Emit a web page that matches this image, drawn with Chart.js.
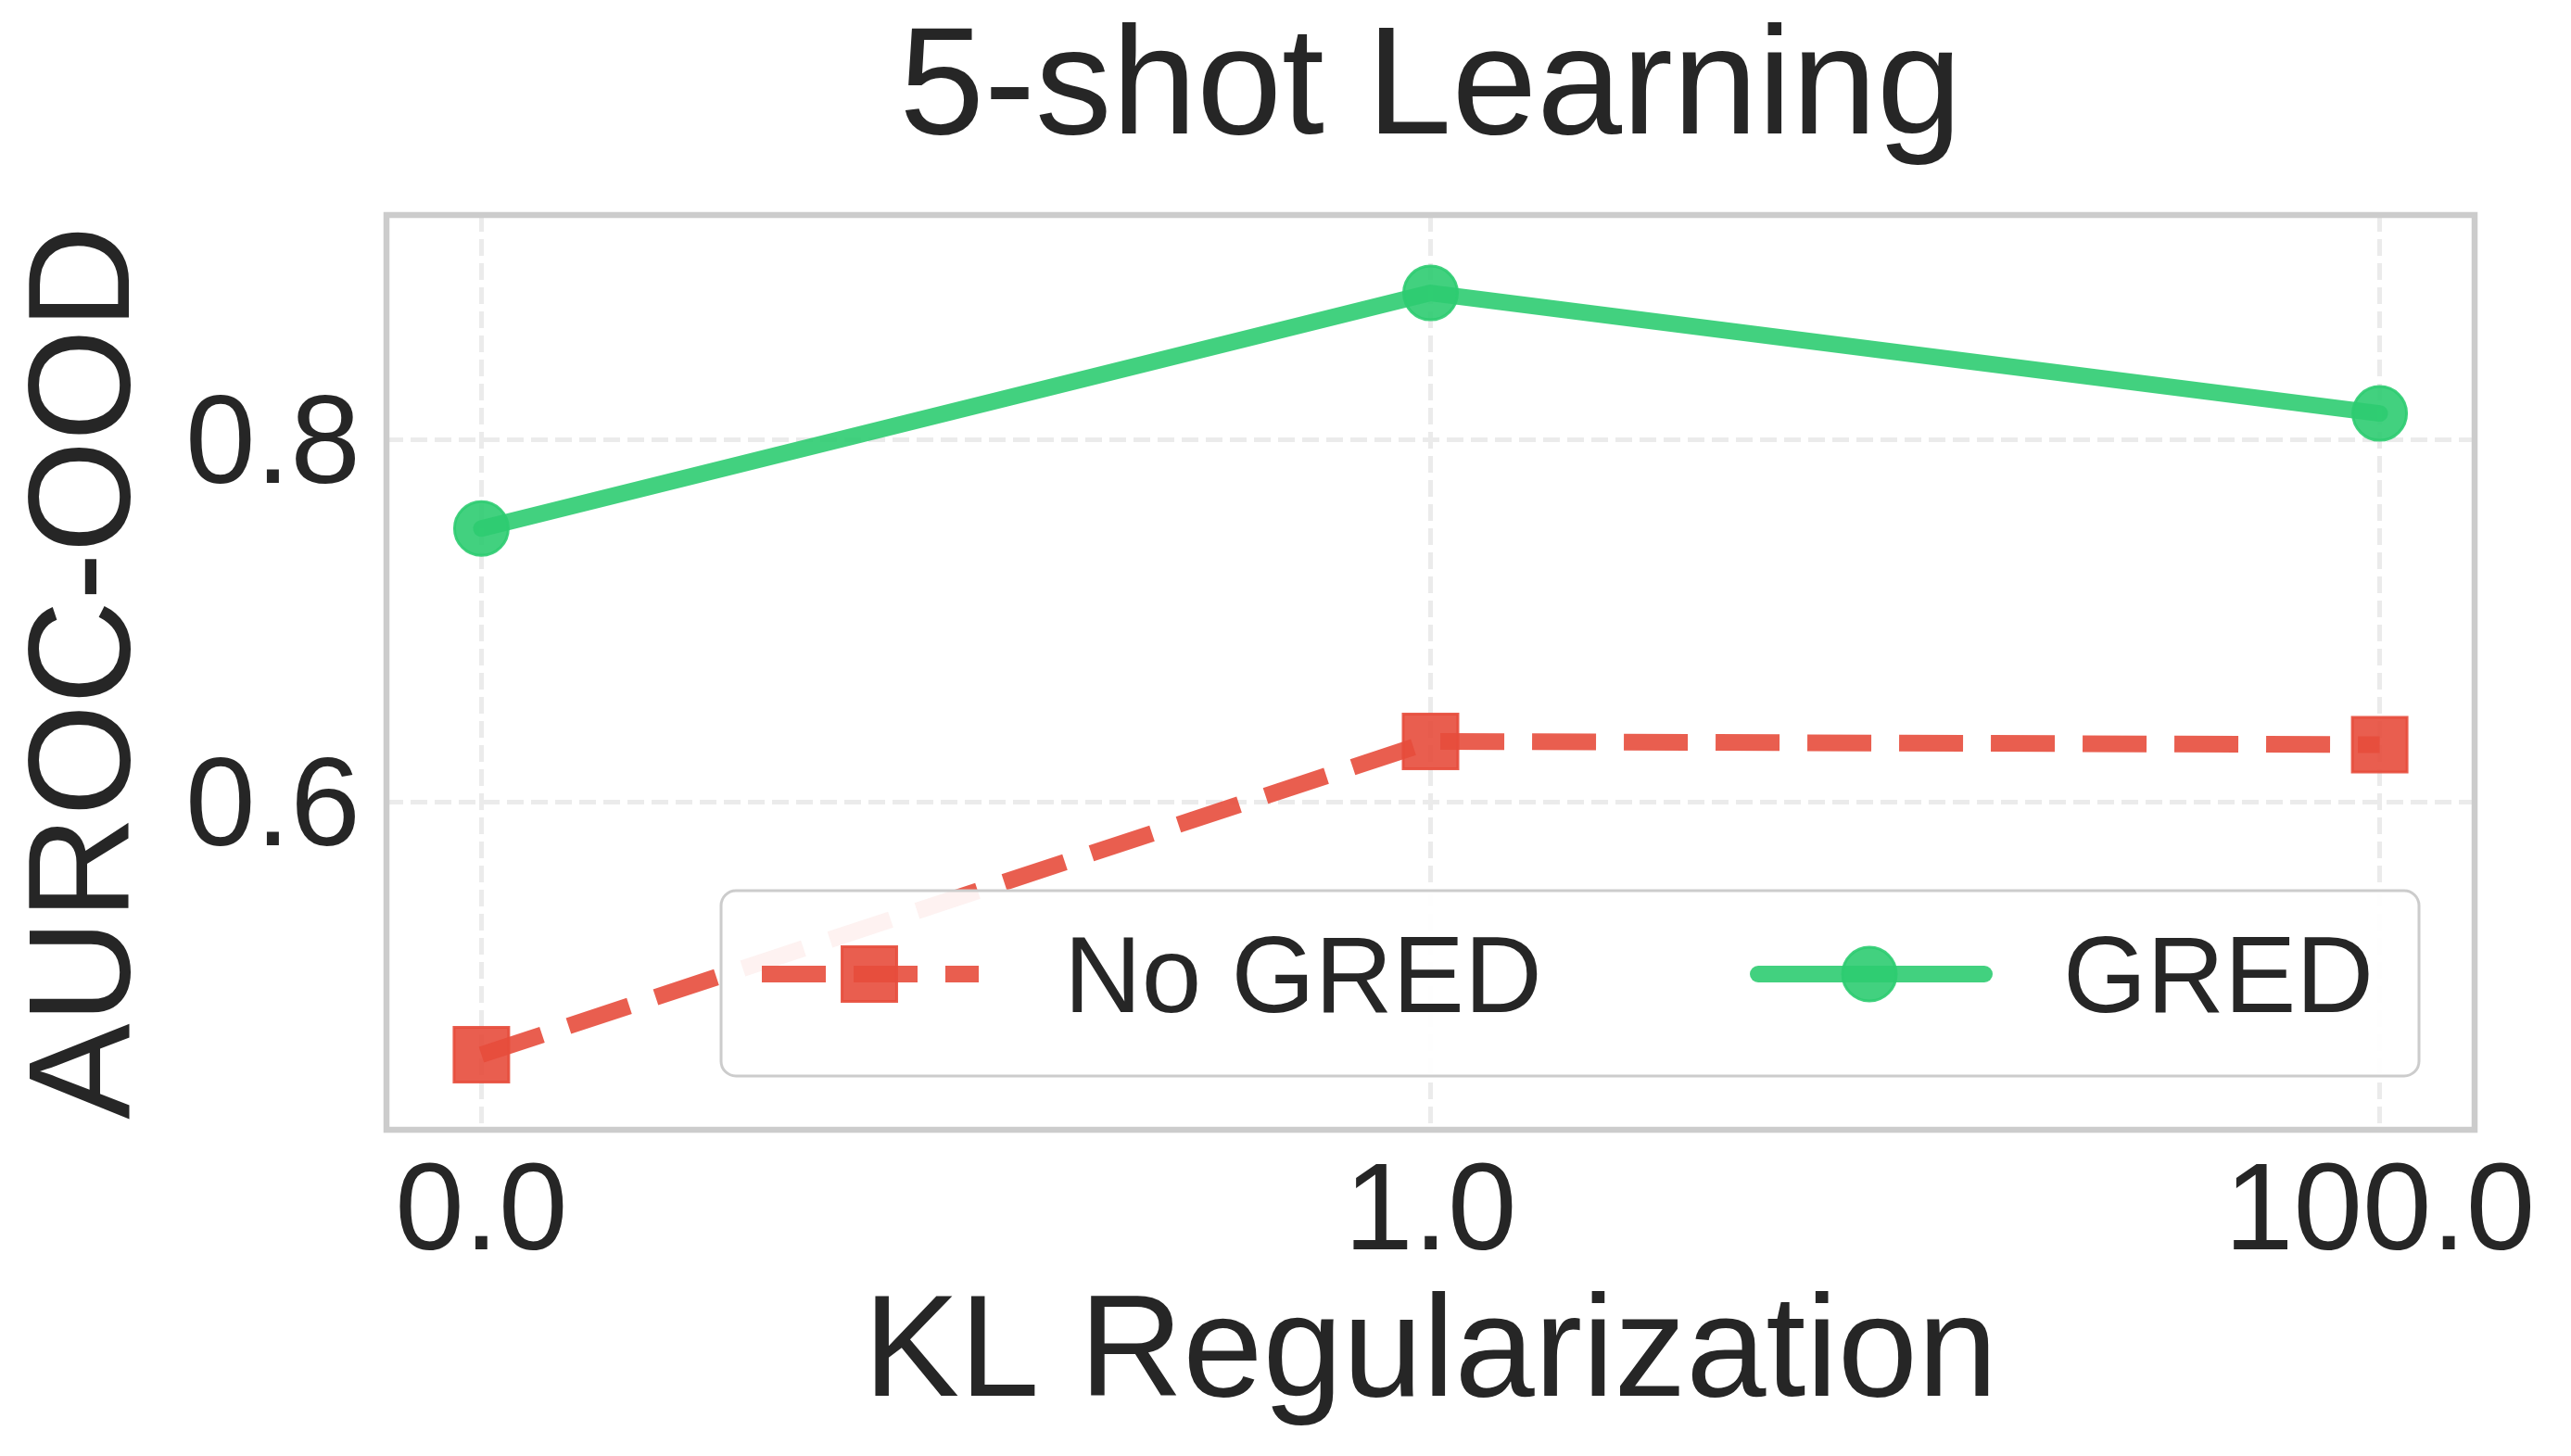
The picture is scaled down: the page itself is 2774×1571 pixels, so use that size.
<!DOCTYPE html>
<html>
<head>
<meta charset="utf-8">
<script src="https://cdn.jsdelivr.net/npm/chart.js@4.4.1/dist/chart.umd.min.js"></script>
<style>
  html, body { margin: 0; padding: 0; background: #ffffff; }
  canvas { display: block; }
</style>
</head>
<body>
<canvas id="c" width="2774" height="1571"></canvas>
<script>
// ---- data ----
const categories = ['0.0', '1.0', '100.0'];
const xPositions = [0, 1, 2];
const noGredValues = [0.4606, 0.6335, 0.6317];
const gredValues = [0.751, 0.881, 0.8145];
const yTickValues = [0.6, 0.8];
const seriesNames = ['No GRED', 'GRED'];
const chartTitle = '5-shot Learning';
const xTitle = 'KL Regularization';
const yTitle = 'AUROC-OOD';

const FONT = "'Liberation Sans', Arial, sans-serif";
const TEXT = '#262626';
const RED = 'rgba(231,76,60,0.9)';
const GREEN = 'rgba(46,204,113,0.9)';

function pts(vals) { return xPositions.map((x, i) => ({ x: x, y: vals[i] })); }

const frameAndLegend = {
  id: 'frameAndLegend',
  beforeDatasetsDraw(chart) {
    const { ctx, chartArea: a } = chart;
    ctx.save();
    ctx.strokeStyle = '#cccccc';
    ctx.lineWidth = 6.5;
    ctx.strokeRect(a.left, a.top, a.right - a.left, a.bottom - a.top);
    ctx.restore();
  },
  afterDraw(chart) {
    const { ctx } = chart;
    ctx.save();
    // legend box
    const bx = 778, by = 961, bw = 2610 - 778, bh = 1161 - 961, r = 16;
    ctx.beginPath();
    ctx.roundRect(bx, by, bw, bh, r);
    ctx.fillStyle = 'rgba(255,255,255,0.92)';
    ctx.fill();
    ctx.strokeStyle = '#cccccc';
    ctx.lineWidth = 3;
    ctx.stroke();
    const entries = [
      { ds: chart.data.datasets[0], x0: 822, x1: 1056, mx: 938, tx: 1148 },
      { ds: chart.data.datasets[1], x0: 1897, x1: 2141, mx: 2017, tx: 2226 }
    ];
    const ly = 1051;
    entries.forEach(e => {
      const ds = e.ds;
      ctx.save();
      ctx.strokeStyle = ds.borderColor;
      ctx.lineWidth = ds.borderWidth;
      ctx.lineCap = ds.borderCapStyle || 'butt';
      ctx.setLineDash(ds.borderDash || []);
      ctx.beginPath();
      ctx.moveTo(e.x0, ly);
      ctx.lineTo(e.x1, ly);
      ctx.stroke();
      ctx.restore();
      // marker
      ctx.save();
      ctx.fillStyle = ds.pointBackgroundColor;
      ctx.strokeStyle = ds.pointBorderColor;
      ctx.lineWidth = ds.pointBorderWidth;
      ctx.beginPath();
      if (ds.pointStyle === 'rect') {
        const s = Math.SQRT1_2 * ds.pointRadius;
        ctx.rect(e.mx - s, ly - s, 2 * s, 2 * s);
      } else {
        ctx.arc(e.mx, ly, ds.pointRadius, 0, Math.PI * 2);
      }
      ctx.fill();
      ctx.stroke();
      ctx.restore();
      // text
      ctx.fillStyle = TEXT;
      ctx.font = '116px ' + FONT;
      ctx.textBaseline = 'alphabetic';
      ctx.textAlign = 'left';
      ctx.fillText(ds.label, e.tx, 1092);
    });
    ctx.restore();
  }
};

new Chart(document.getElementById('c'), {
  type: 'line',
  data: {
    datasets: [
      {
        label: seriesNames[0],
        data: pts(noGredValues),
        borderColor: RED,
        backgroundColor: RED,
        borderWidth: 18,
        borderDash: [69, 30],
        borderCapStyle: 'butt',
        borderJoinStyle: 'round',
        pointStyle: 'rect',
        pointRadius: 41.7,
        pointHoverRadius: 41.7,
        pointBackgroundColor: RED,
        pointBorderColor: RED,
        pointBorderWidth: 3,
        tension: 0,
        fill: false
      },
      {
        label: seriesNames[1],
        data: pts(gredValues),
        borderColor: GREEN,
        backgroundColor: GREEN,
        borderWidth: 18,
        borderCapStyle: 'round',
        borderJoinStyle: 'round',
        pointStyle: 'circle',
        pointRadius: 29,
        pointHoverRadius: 29,
        pointBackgroundColor: GREEN,
        pointBorderColor: GREEN,
        pointBorderWidth: 3,
        tension: 0,
        fill: false
      }
    ]
  },
  options: {
    responsive: false,
    animation: false,
    devicePixelRatio: 1,
    events: [],
    layout: { padding: { left: 0, right: 104, top: 0, bottom: 0 } },
    plugins: {
      legend: { display: false },
      tooltip: { enabled: false },
      title: {
        display: true,
        fullSize: false,
        text: chartTitle,
        color: TEXT,
        font: { family: FONT, size: 165, weight: 'normal', lineHeight: 1 },
        padding: { top: 16, bottom: 51 }
      }
    },
    scales: {
      x: {
        type: 'linear',
        min: -0.1,
        max: 2.1,
        afterBuildTicks: s => { s.ticks = xPositions.map(v => ({ value: v })); },
        afterFit: s => { s.height = 352; },
        ticks: {
          callback: v => categories[xPositions.indexOf(v)],
          color: TEXT,
          font: { family: FONT, size: 134, lineHeight: 1.2 },
          padding: 12,
          maxRotation: 0,
          autoSkip: false
        },
        grid: { color: '#ebebeb', lineWidth: 5, drawTicks: false },
        border: { display: false, dash: [18, 8] },
        title: {
          display: true,
          text: xTitle,
          color: TEXT,
          font: { family: FONT, size: 155, lineHeight: 1 },
          padding: { top: 0, bottom: 30 }
        }
      },
      y: {
        type: 'linear',
        min: 0.4192,
        max: 0.924,
        afterBuildTicks: s => { s.ticks = yTickValues.map(v => ({ value: v })); },
        afterFit: s => { s.width = 417; },
        ticks: {
          callback: v => v.toFixed(1),
          color: TEXT,
          font: { family: FONT, size: 136, lineHeight: 1.2 },
          padding: 28,
          labelOffset: 9
        },
        grid: { color: '#ebebeb', lineWidth: 5, drawTicks: false },
        border: { display: false, dash: [18, 8] },
        title: {
          display: true,
          text: yTitle,
          color: TEXT,
          font: { family: FONT, size: 155, lineHeight: 1 },
          padding: { top: 19, bottom: 0 }
        }
      }
    }
  },
  plugins: [frameAndLegend]
});
</script>
</body>
</html>
